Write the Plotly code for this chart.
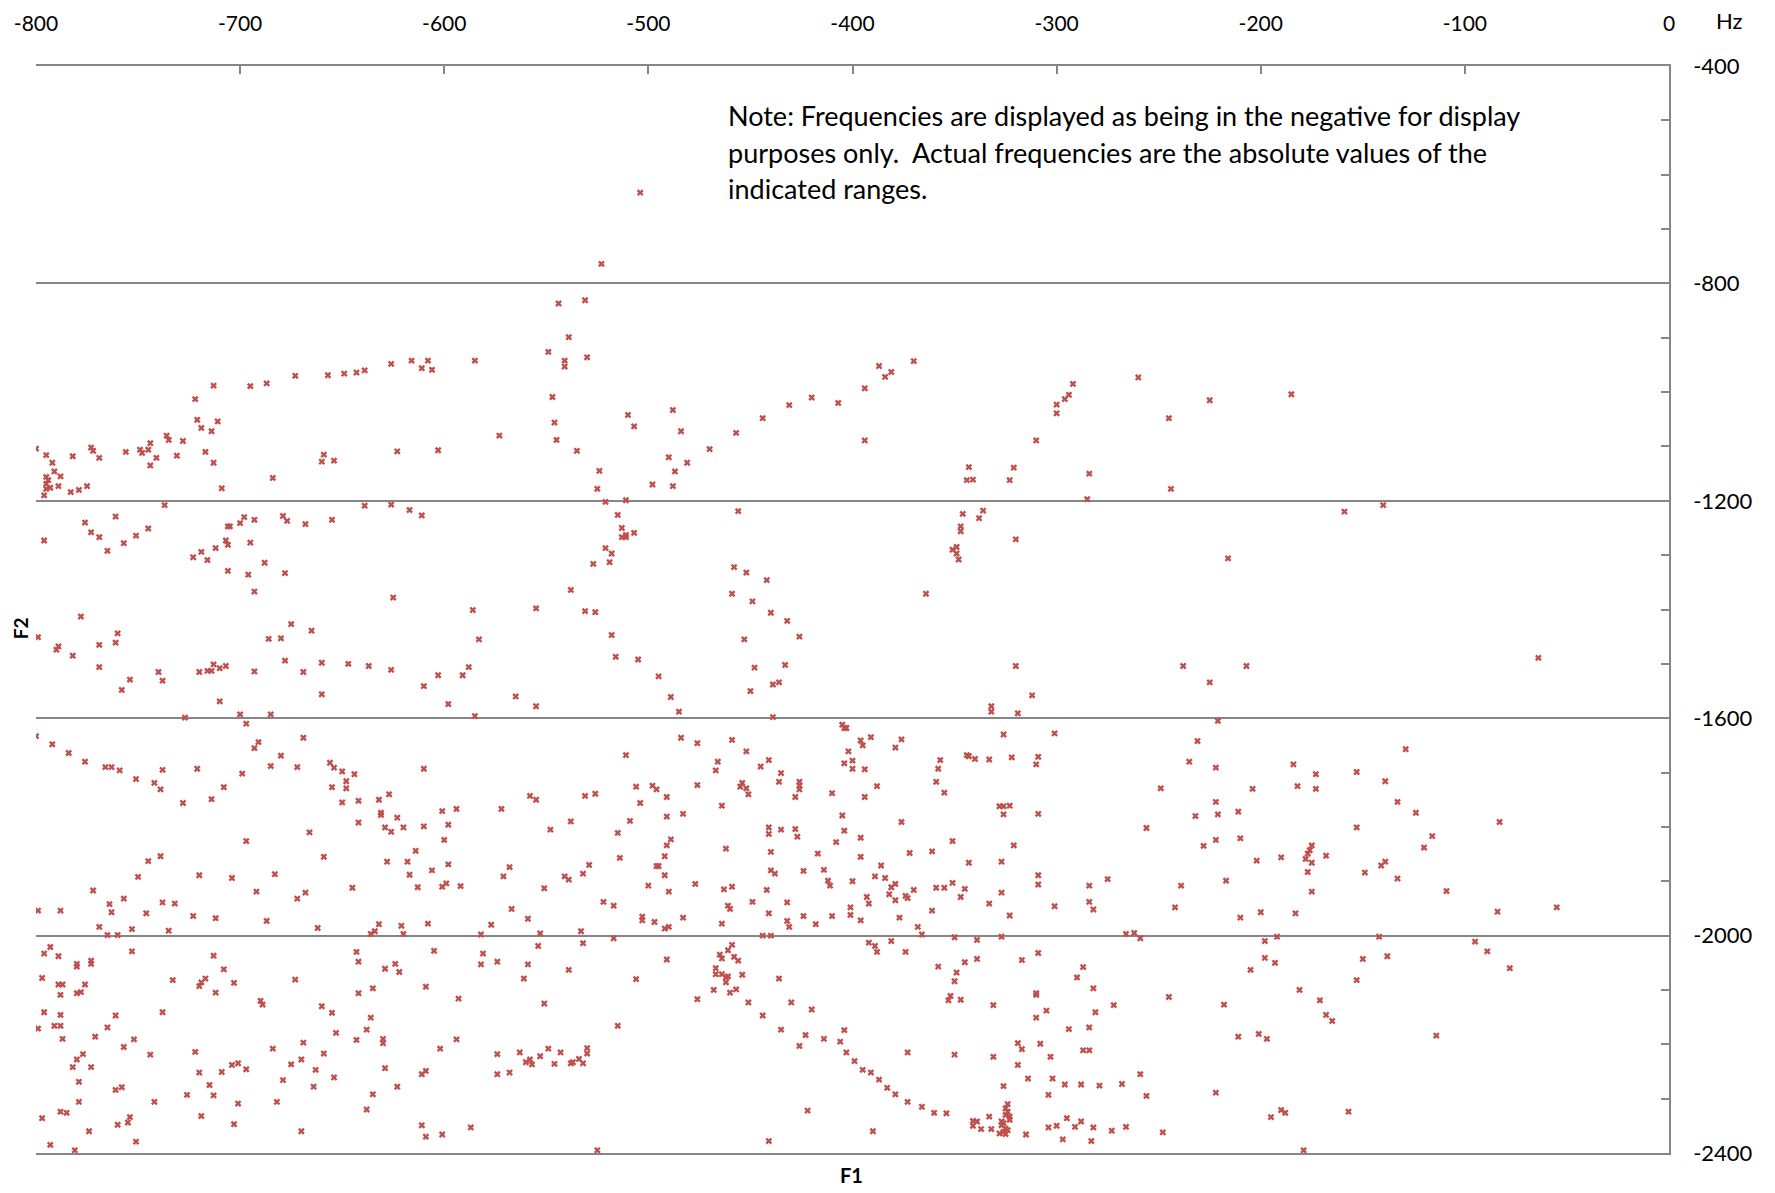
import plotly.graph_objects as go

# ---- data: (F1, F2) pairs in Hz (displayed negative), grouped by chart region ----
pts_top = [(-504,-633),(-523,-764),(-544,-837),(-531,-831),(-539,-899),(-549,-926),(-541,-942),(-530,-936),(-541,-953),(-547,-1009),(-722,-1013),(-713,-988),(-695,-989),(-687,-984),(-673,-970),(-657,-969),(-649,-966),(-643,-964),(-639,-960),(-626,-948),(-616,-942),(-608,-942),(-611,-956),(-606,-959),(-585,-942),(-420,-1010),
           (-394,-993),(-387,-952),(-384,-972),(-381,-963),(-370,-943),(-292,-985),(-294,-1005),(-296,-1013),(-260,-973),(-225,-1015),(-185,-1004)]

pts_mid_a = [(-721,-1051),(-719,-1066),(-711,-1054),(-714,-1072),(-800,-1104),(-795,-1116),(-792,-1130),(-791,-1146),(-788,-1155),(-795,-1156),(-794,-1162),(-795,-1169),(-793,-1176),(-795,-1178),(-789,-1173),(-796,-1190),(-783,-1184),(-779,-1180),(-775,-1173),(-782,-1118),(-773,-1102),(-772,-1108),(-769,-1121),(-756,-1110),(-749,-1106),(-748,-1112),(-745,-1106),(-744,-1094),(-741,-1121),(-744,-1135),(-736,-1080),(-735,-1088),(-731,-1117),(-728,-1090),(-717,-1110),(-713,-1130),(-709,-1177),(-684,-1158),(-660,-1128),(-659,-1115),(-654,-1126),(-737,-1208),(-796,-1273),(-776,-1240),(-761,-1229),(-773,-1258),(-769,-1267),(-765,-1292),(-757,-1278),(-751,-1264),(-745,-1251),(-723,-1304),(-719,-1294),(-716,-1309),(-712,-1287),(-707,-1273),(-706,-1281),(-706,-1247),(-705,-1247),(-700,-1241),(-698,-1230),(-693,-1235),(-695,-1277),(-706,-1329),(-696,-1336),(-693,-1367),(-688,-1314),(-679,-1228),(-677,-1237),(-678,-1333),(-668,-1243),(-655,-1235),(-778,-1413),(-799,-1451),(-790,-1474),(-789,-1468),(-782,-1485),(-769,-1465),(-769,-1506),(-760,-1444),(-761,-1461),(-758,-1548),(-754,-1529),(-740,-1515),(-738,-1531),(-720,-1515),(-716,-1513),(-714,-1513),(-713,-1501),(-710,-1508),(-707,-1504),(-710,-1569),(-727,-1599),(-693,-1514),(-686,-1454),(-680,-1453),(-675,-1427),(-678,-1494),(-669,-1515),(-665,-1439),(-660,-1498),(-660,-1556),(-647,-1500),(-700,-1593),(-685,-1593),(-697,-1610),(-691,-1644),(-693,-1655),(-669,-1636),(-680,-1669),(-685,-1688),(-800,-1633),(-792,-1648),(-784,-1664),(-776,-1680),(-766,-1690),(-763,-1690),(-759,-1696),(-751,-1712),(-738,-1695),(-721,-1693),(-699,-1702),(-672,-1690),(-656,-1682),(-654,-1691),(-650,-1698),(-644,-1703)]

pts_mid_b = [(-488,-1033),(-510,-1042),(-507,-1063),(-484,-1072),(-546,-1056),(-545,-1088),(-573,-1080),(-535,-1108),(-623,-1109),(-603,-1107),(-490,-1120),(-481,-1130),(-487,-1146),(-524,-1145),(-525,-1178),(-498,-1170),(-488,-1173),(-521,-1202),(-511,-1199),(-639,-1209),(-626,-1207),(-617,-1217),(-611,-1227),(-515,-1226),(-513,-1250),(-511,-1263),(-513,-1267),(-511,-1267),(-507,-1259),(-521,-1287),(-518,-1297),(-519,-1313),(-527,-1316),(-538,-1364),(-625,-1378),(-586,-1401),(-555,-1398),(-531,-1403),(-526,-1405),(-583,-1455),(-518,-1447),(-516,-1487),(-505,-1492),(-495,-1523),(-489,-1561),(-485,-1588),(-637,-1504),(-626,-1511),(-610,-1541),(-603,-1521),(-591,-1521),(-588,-1506),(-598,-1574),(-565,-1560),(-555,-1578),(-585,-1596),(-484,-1636),(-511,-1668),(-610,-1693)]

pts_mid_c = [(-431,-1024),(-407,-1020),(-444,-1048),(-457,-1075),(-470,-1105),(-394,-1089),(-343,-1138),(-344,-1162),(-341,-1161),(-321,-1139),(-323,-1162),(-456,-1219),(-346,-1224),(-336,-1218),(-338,-1232),(-347,-1247),(-347,-1256),(-320,-1271),(-351,-1290),(-349,-1285),(-349,-1297),(-348,-1308),(-458,-1322),(-452,-1332),(-442,-1346),(-459,-1371),(-449,-1385),(-440,-1406),(-432,-1421),(-426,-1450),(-453,-1455),(-364,-1371),(-448,-1507),(-433,-1502),(-439,-1538),(-436,-1534),(-450,-1550),(-439,-1598),(-320,-1504),(-332,-1578),(-332,-1588),(-319,-1591),(-405,-1612),(-404,-1618),(-403,-1618),(-476,-1646),(-459,-1640),(-452,-1661),(-466,-1680),(-467,-1696),(-445,-1689),(-441,-1677),(-435,-1701),(-396,-1641),(-395,-1650),(-391,-1635),(-402,-1661),(-400,-1678),(-404,-1683),(-400,-1693),(-394,-1694),(-379,-1654),(-376,-1639),(-357,-1677),(-358,-1693),(-344,-1668),(-343,-1670),(-340,-1675),(-333,-1676),(-326,-1630),(-322,-1672)]

pts_mid_d = [(-300,-1023),(-300,-1039),(-310,-1089),(-245,-1048),(-284,-1150),(-244,-1178),(-285,-1197),(-159,-1220),(-216,-1306),(-238,-1504),(-207,-1504),(-225,-1534),(-312,-1558),(-221,-1605),(-301,-1628),(-231,-1642),(-309,-1671),(-310,-1685),(-235,-1680),(-222,-1691),(-184,-1685),(-173,-1703),
             (-140,-1208),(-64,-1489),(-129,-1657),(-153,-1699)]

pts_low_a = [(-742,-1719),(-739,-1731),(-728,-1756),(-714,-1749),(-708,-1727),(-655,-1727),(-648,-1716),(-648,-1729),(-650,-1755),(-642,-1752),(-642,-1792),(-666,-1810),(-697,-1826),(-659,-1855),(-745,-1863),(-739,-1854),(-750,-1892),(-720,-1889),(-704,-1894),(-683,-1887),(-692,-1919),(-672,-1932),(-668,-1921),(-645,-1912),(-772,-1917),(-799,-1954),(-788,-1954),(-764,-1942),(-763,-1957),(-757,-1932),(-746,-1959),(-738,-1939),(-732,-1941),(-723,-1964),(-712,-1968),(-687,-1973),(-662,-1986),(-769,-1984),(-765,-1999),(-760,-1999),(-753,-1988),(-735,-1991),(-796,-2033),(-793,-2021),(-789,-2038),(-780,-2057),(-780,-2052),(-773,-2052),(-773,-2046),(-753,-2029),(-713,-2037),(-708,-2062),(-797,-2078),(-789,-2090),(-787,-2090),(-788,-2109),(-776,-2090),(-780,-2106),(-778,-2104),(-733,-2082),(-720,-2093),(-719,-2086),(-717,-2079),(-712,-2105),(-703,-2087),(-673,-2081),(-690,-2120),(-689,-2127),(-796,-2141),(-788,-2146),(-761,-2147),(-738,-2141),(-660,-2130),(-655,-2142),(-642,-2106),(-643,-2030),(-642,-2048),(-799,-2171),(-791,-2166),(-788,-2166),(-787,-2190),(-771,-2186),(-765,-2169),(-752,-2191),(-757,-2205),(-653,-2179),(-643,-2192),(-744,-2219),(-722,-2214),(-684,-2208),(-669,-2197),(-659,-2217),(-777,-2218),(-780,-2228),(-782,-2242),(-773,-2242),(-720,-2252),(-709,-2251),(-704,-2238),(-701,-2235),(-697,-2246),(-675,-2237),(-670,-2228),(-663,-2247),(-779,-2269),(-761,-2284),(-758,-2279),(-715,-2275),(-713,-2294),(-726,-2293),(-679,-2266),(-664,-2278),(-654,-2261),(-779,-2306),(-742,-2306),(-701,-2309),(-682,-2306),(-788,-2324),(-785,-2326),(-797,-2336),(-754,-2334),(-755,-2344),(-760,-2348),(-719,-2332),(-703,-2347),(-774,-2360),(-670,-2360),(-793,-2385),(-751,-2379),(-781,-2395)]

pts_low_b = [(-632,-1750),(-627,-1740),(-631,-1774),(-631,-1778),(-623,-1783),(-629,-1801),(-626,-1809),(-620,-1801),(-610,-1799),(-601,-1771),(-594,-1767),(-598,-1796),(-600,-1824),(-614,-1844),(-628,-1864),(-618,-1864),(-617,-1888),(-606,-1880),(-598,-1869),(-613,-1911),(-601,-1910),(-599,-1904),(-592,-1909),(-572,-1767),(-558,-1743),(-555,-1750),(-548,-1805),(-538,-1790),(-531,-1743),(-526,-1739),(-506,-1726),(-498,-1724),(-496,-1731),(-504,-1756),(-491,-1745),(-491,-1781),(-483,-1776),(-509,-1789),(-515,-1811),(-489,-1823),(-491,-1834),(-492,-1854),(-514,-1857),(-496,-1872),(-495,-1872),(-492,-1889),(-500,-1908),(-490,-1919),(-529,-1870),(-532,-1886),(-541,-1891),(-539,-1897),(-551,-1913),(-568,-1874),(-571,-1891),(-567,-1951),(-559,-1969),(-522,-1938),(-517,-1945),(-503,-1965),(-503,-1972),(-497,-1975),(-483,-1967),(-492,-1987),(-490,-1984),(-632,-1979),(-634,-1992),(-636,-1997),(-621,-1982),(-620,-1997),(-608,-1978),(-577,-1980),(-582,-1998),(-553,-1996),(-533,-1992),(-517,-2005),(-554,-2019),(-532,-2014),(-605,-2028),(-581,-2033),(-582,-2053),(-574,-2048),(-559,-2053),(-624,-2052),(-629,-2061),(-622,-2067),(-539,-2063),(-491,-2044),(-561,-2079),(-506,-2080),(-635,-2097),(-609,-2094),(-593,-2116),(-551,-2125),(-636,-2151),(-638,-2173),(-630,-2190),(-630,-2198),(-602,-2208),(-594,-2191),(-515,-2166),(-574,-2218),(-563,-2215),(-560,-2233),(-558,-2228),(-557,-2237),(-553,-2222),(-549,-2208),(-546,-2236),(-543,-2215),(-538,-2235),(-537,-2233),(-534,-2227),(-532,-2235),(-530,-2207),(-530,-2217),(-574,-2255),(-568,-2252),(-629,-2244),(-611,-2255),(-609,-2249),(-623,-2278),(-635,-2292),(-638,-2320),(-611,-2349),(-609,-2370),(-601,-2366),(-587,-2353),(-525,-2395)]

pts_low_c = [(-476,-1723),(-454,-1719),(-455,-1726),(-452,-1729),(-451,-1740),(-436,-1717),(-426,-1717),(-426,-1724),(-426,-1731),(-428,-1745),(-410,-1738),(-394,-1745),(-388,-1725),(-359,-1717),(-355,-1737),(-328,-1762),(-326,-1762),(-323,-1761),(-326,-1777),(-464,-1761),(-405,-1779),(-376,-1791),(-441,-1801),(-441,-1813),(-435,-1805),(-428,-1804),(-427,-1818),(-404,-1807),(-396,-1820),(-408,-1828),(-351,-1826),(-321,-1834),(-462,-1840),(-440,-1846),(-417,-1849),(-396,-1855),(-372,-1848),(-361,-1845),(-343,-1866),(-327,-1864),(-440,-1880),(-438,-1886),(-424,-1881),(-414,-1879),(-386,-1871),(-389,-1891),(-384,-1894),(-412,-1899),(-411,-1908),(-400,-1900),(-477,-1905),(-463,-1915),(-459,-1910),(-442,-1916),(-381,-1911),(-379,-1905),(-370,-1916),(-382,-1924),(-379,-1935),(-374,-1927),(-373,-1931),(-359,-1912),(-355,-1912),(-351,-1903),(-345,-1914),(-347,-1929),(-327,-1921),(-393,-1929),(-392,-1941),(-449,-1938),(-432,-1939),(-461,-1945),(-460,-1951),(-333,-1941),(-441,-1959),(-424,-1964),(-410,-1964),(-401,-1948),(-401,-1962),(-396,-1972),(-377,-1967),(-361,-1954),(-323,-1963),(-464,-1978),(-432,-1973),(-431,-1984),(-418,-1979),(-368,-1984),(-366,-1998),(-444,-2000),(-440,-2000),(-350,-2003),(-339,-2008),(-327,-2002),(-459,-2017),(-461,-2027),(-465,-2035),(-464,-2042),(-458,-2039),(-456,-2046),(-467,-2060),(-467,-2071),(-464,-2071),(-462,-2077),(-461,-2075),(-462,-2086),(-454,-2072),(-468,-2100),(-460,-2105),(-457,-2099),(-476,-2117),(-451,-2123),(-436,-2079),(-430,-2123),(-420,-2136),(-444,-2147),(-435,-2173),(-423,-2183),(-426,-2203),(-414,-2190),(-406,-2195),(-404,-2174),(-403,-2215),(-399,-2231),(-395,-2247),(-391,-2252),(-387,-2265),(-383,-2280),(-379,-2292),(-373,-2306),(-366,-2315),(-360,-2326),(-354,-2327),(-392,-2013),(-389,-2019),(-388,-2030),(-381,-2010),(-374,-2030),(-358,-2057),(-345,-2049),(-349,-2068),(-350,-2084),(-352,-2111),(-353,-2119),(-347,-2118),(-339,-2043),(-331,-2128),(-373,-2215),(-350,-2219),(-331,-2223),(-326,-2277),(-319,-2198),(-319,-2238),(-422,-2322),(-390,-2360),(-441,-2378),(-341,-2341),(-339,-2342),(-341,-2350),(-337,-2356),(-333,-2333),(-332,-2356),(-324,-2310),(-325,-2318),(-324,-2324),(-325,-2330),(-323,-2333),(-323,-2339),(-327,-2342),(-327,-2349),(-325,-2355),(-326,-2361),(-325,-2365),(-328,-2364),(-324,-2358),(-326,-2345)]

pts_low_d = [(-249,-1729),(-204,-1730),(-182,-1725),(-173,-1730),(-222,-1754),(-232,-1780),(-221,-1777),(-211,-1772),(-309,-1776),(-256,-1802),(-228,-1835),(-222,-1824),(-210,-1821),(-202,-1862),(-190,-1856),(-178,-1859),(-177,-1849),(-176,-1843),(-175,-1834),(-175,-1866),(-168,-1853),(-177,-1883),(-175,-1919),(-309,-1889),(-309,-1906),(-284,-1908),(-275,-1896),(-239,-1908),(-217,-1899),(-301,-1946),(-284,-1938),(-282,-1952),(-242,-1948),(-210,-1967),(-200,-1957),(-183,-1959),(-266,-1997),(-262,-1995),(-259,-2005),(-198,-2010),(-192,-2002),(-309,-2032),(-317,-2045),(-198,-2041),(-193,-2050),(-287,-2058),(-205,-2063),(-290,-2077),(-282,-2097),(-310,-2106),(-310,-2109),(-245,-2113),(-218,-2127),(-181,-2100),(-171,-2119),(-168,-2146),(-165,-2157),(-305,-2138),(-281,-2141),(-272,-2128),(-310,-2151),(-294,-2172),(-284,-2169),(-308,-2199),(-317,-2209),(-303,-2223),(-287,-2211),(-284,-2211),(-211,-2186),(-201,-2181),(-197,-2190),(-314,-2263),(-302,-2263),(-296,-2274),(-288,-2274),(-279,-2276),(-268,-2273),(-259,-2255),(-256,-2295),(-304,-2293),(-222,-2289),(-295,-2336),(-288,-2342),(-291,-2352),(-300,-2350),(-304,-2353),(-282,-2353),(-273,-2359),(-266,-2352),(-248,-2362),(-315,-2366),(-297,-2375),(-283,-2378),(-195,-2334),(-190,-2321),(-188,-2326),(-157,-2324),(-179,-2395)]

pts_low_e = [(-139,-1716),(-133,-1754),(-124,-1774),(-153,-1801),(-83,-1791),(-116,-1817),(-120,-1838),(-139,-1864),(-141,-1871),(-149,-1884),(-133,-1895),(-109,-1918),(-84,-1956),(-55,-1948),(-142,-2002),(-95,-2011),(-89,-2029),(-78,-2060),(-150,-2043),(-138,-2038),(-153,-2082),(-114,-2184)]

x_ticks = [-800, -700, -600, -500, -400, -300, -200, -100, 0]
y_ticks = [-400, -800, -1200, -1600, -2000, -2400]
note_lines = ["Note: Frequencies are displayed as being in the negative for display",
              "purposes only.  Actual frequencies are the absolute values of the",
              "indicated ranges."]

all_pts = pts_top + pts_mid_a + pts_mid_b + pts_mid_c + pts_mid_d + pts_low_a + pts_low_b + pts_low_c + pts_low_d + pts_low_e
f1 = [p[0] for p in all_pts]
f2 = [p[1] for p in all_pts]

# The page body has an 8px margin, so the figure is drawn 8px in from the top-left.
BODY = 8
W, H = 1775 - BODY, 1193 - BODY
PLOT_L, PLOT_R, PLOT_T, PLOT_B = 36, 1669.5, 65.5, 1153   # page coordinates of the plot area
ML, MR, MT, MB = PLOT_L - BODY, W + BODY - PLOT_R, PLOT_T - BODY, H + BODY - PLOT_B
PW, PH = PLOT_R - PLOT_L, PLOT_B - PLOT_T
AX = "#868686"
FONT = "Lato"

fig = go.Figure(go.Scatter(
    x=f1, y=f2, mode="markers",
    marker=dict(symbol="x", size=6, color="#C0504D", line=dict(width=0)),
    hoverinfo="x+y"))

def px_x(p):
    return (p - PLOT_L) / PW

def px_y(p):
    return (PLOT_B - p) / PH

ann = []
for i, line in enumerate(note_lines):
    ann.append(dict(text=line, x=px_x(726), y=px_y(115.5 + i * 36.2), xref="paper", yref="paper",
                    xanchor="left", yanchor="middle", showarrow=False,
                    font=dict(family=FONT, size=27, color="black")))
ann.append(dict(text="<b>F1</b>", x=px_x(852), y=px_y(1175), xref="paper", yref="paper",
                xanchor="center", yanchor="middle", showarrow=False,
                font=dict(family=FONT, size=20, color="black")))
ann.append(dict(text="<b>F2</b>", x=px_x(20), y=px_y(628), xref="paper", yref="paper",
                xanchor="center", yanchor="middle", showarrow=False, textangle=-90,
                font=dict(family=FONT, size=19, color="black")))
ann.append(dict(text="Hz", x=px_x(1730), y=px_y(20), xref="paper", yref="paper",
                xanchor="center", yanchor="middle", showarrow=False,
                font=dict(family=FONT, size=22, color="black")))

fig.update_layout(
    width=W, height=H,
    margin=dict(l=ML, r=MR, t=MT, b=MB, pad=0, autoexpand=False),
    paper_bgcolor="white", plot_bgcolor="white",
    showlegend=False,
    annotations=ann,
    xaxis=dict(range=[-800, 0], side="top", tickvals=x_ticks, ticktext=[str(v) for v in x_ticks],
               ticks="inside", ticklen=8, tickwidth=1.5, tickcolor=AX, automargin=False,
               showline=True, linecolor=AX, linewidth=1.5, mirror=True,
               showgrid=False, zeroline=False, ticklabelstandoff=25,
               tickfont=dict(family=FONT, size=21, color="black")),
    yaxis=dict(range=[-2400, -400], side="right", tickvals=y_ticks, ticktext=[str(v) for v in y_ticks],
               ticks="inside", ticklen=8, tickwidth=1.5, tickcolor=AX, automargin=False,
               minor=dict(dtick=100, tick0=0, ticks="inside", ticklen=8, tickwidth=1.5, tickcolor=AX, showgrid=False),
               showline=True, linecolor=AX, linewidth=1.5,
               showgrid=True, gridcolor=AX, gridwidth=1.5, zeroline=False, ticklabelstandoff=18,
               tickfont=dict(family=FONT, size=22, color="black")),
)

fig.write_html("out.html")
